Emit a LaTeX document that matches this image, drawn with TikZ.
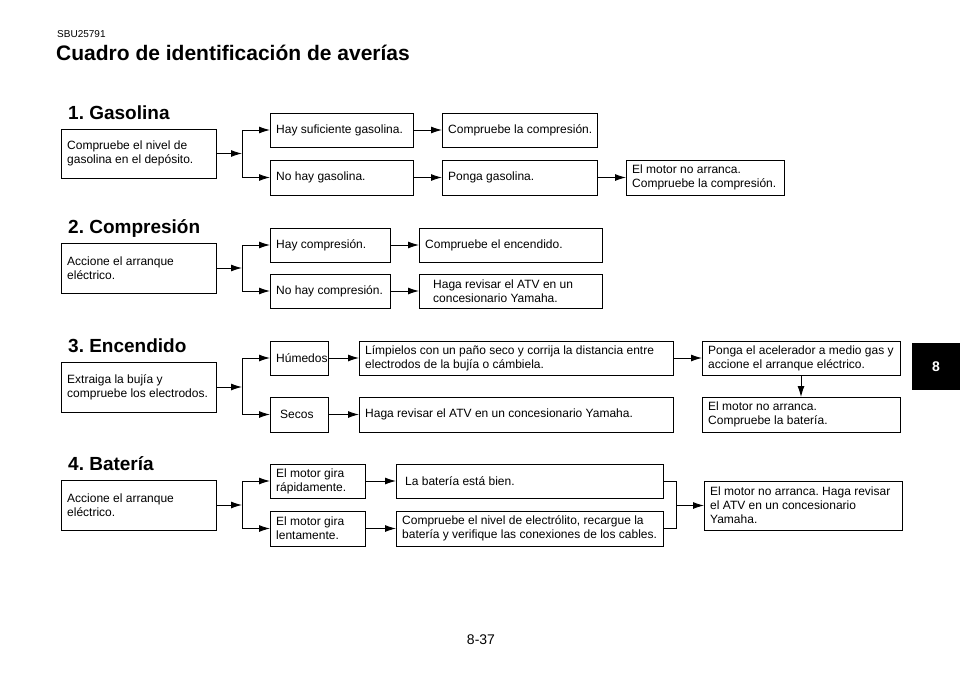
\documentclass[tikz,border=0pt]{standalone}
\usepackage{fontspec}
\setmainfont{Liberation Sans}
\usetikzlibrary{arrows.meta}
\frenchspacing
\begin{document}
\begin{tikzpicture}[x=1pt,y=-1pt,
  bx/.style={draw,line width=0.9pt,inner sep=0pt},
  tx/.style={anchor=west,align=left,font=\fontsize{12}{14}\selectfont,inner sep=0pt},
  ar/.style={line width=0.9pt,-{Latex[length=11pt,width=7pt]}},
  ln/.style={line width=0.9pt},
  ttl/.style={anchor=west,font=\fontsize{19}{22}\selectfont\bfseries,inner sep=0pt}]
\useasboundingbox (0,0) rectangle (960,675);
\def\B#1#2#3#4#5#6{\draw[bx] (#2,#3) rectangle (#4,#5); \coordinate (#1w) at (#2,{(#3+#5)/2}); \coordinate (#1e) at (#4,{(#3+#5)/2}); \node[tx] (#1) at ({#2+6},{(#3+#5)/2}) {#6};}
\node[anchor=west,inner sep=0pt,font=\fontsize{10}{12}\selectfont] (hd) at (57,34) {SBU25791};
\node[anchor=west,inner sep=0pt,font=\fontsize{21}{24}\selectfont\bfseries] (tt) at (56,53) {Cuadro de identificación de averías};
% 1
\node[ttl] (t1) at (68,113) {1. Gasolina};
\B{a1}{61}{129}{216}{178}{Compruebe el nivel de\\gasolina en el depósito.}
\B{b1}{270}{113}{413}{147}{Hay suficiente gasolina.}
\B{c1}{442}{113}{597}{147}{Compruebe la compresión.}
\B{b2}{270}{160}{413}{195}{No hay gasolina.}
\B{c2}{442}{160}{597}{195}{Ponga gasolina.}
\B{d2}{626}{160}{784}{195}{El motor no arranca.\\Compruebe la compresión.}
\coordinate (j1) at (242,153.5);
\draw[ar] (a1e) -- (j1);
\draw[ln] (242,130) -- (242,177.5);
\draw[ar] (242,130) -- (b1w);
\draw[ar] (242,177.5) -- (b2w);
\draw[ar] (b1e) -- (c1w);
\draw[ar] (b2e) -- (c2w);
\draw[ar] (c2e) -- (d2w);
% 2
\node[ttl] (t2) at (68,228) {2. Compresión};
\B{a2}{61}{243}{216}{293}{Accione el arranque\\eléctrico.}
\B{e1}{270}{228}{390}{262}{Hay compresión.}
\B{f1}{419}{228}{602}{262}{Compruebe el encendido.}
\B{e2}{270}{274}{390}{308}{No hay compresión.}
\B{f2}{419}{274}{602}{308}{\hspace*{8pt}Haga revisar el ATV en un\\\hspace*{8pt}concesionario Yamaha.}
\coordinate (j2) at (242,268);
\draw[ar] (a2e) -- (j2);
\draw[ln] (242,245) -- (242,291);
\draw[ar] (242,245) -- (e1w);
\draw[ar] (242,291) -- (e2w);
\draw[ar] (e1e) -- (f1w);
\draw[ar] (e2e) -- (f2w);
% 3
\node[ttl] (t3) at (68,346) {3. Encendido};
\B{a3}{61}{362}{216}{412}{Extraiga la bujía y\\compruebe los electrodos.}
\B{g1}{270}{341}{328}{375}{Húmedos}
\B{h1}{359}{341}{673}{375}{Límpielos con un paño seco y corrija la distancia entre\\electrodos de la bujía o cámbiela.}
\B{k1}{702}{341}{900}{375}{Ponga el acelerador a medio gas y\\accione el arranque eléctrico.}
\B{g2}{270}{397}{328}{432}{\hspace*{4pt}Secos}
\B{h2}{359}{397}{673}{432}{Haga revisar el ATV en un concesionario Yamaha.}
\B{k2}{702}{397}{900}{432}{El motor no arranca.\\Compruebe la batería.}
\coordinate (j3) at (242,387);
\draw[ar] (a3e) -- (j3);
\draw[ln] (242,358) -- (242,414.5);
\draw[ar] (242,358) -- (g1w);
\draw[ar] (242,414.5) -- (g2w);
\draw[ar] (g1e) -- (h1w);
\draw[ar] (g2e) -- (h2w);
\draw[ar] (h1e) -- (k1w);
\draw[ar] (801,375) -- (801,397);
% 4
\node[ttl] (t4) at (68,464) {4. Batería};
\B{a4}{61}{480}{216}{530}{Accione el arranque\\eléctrico.}
\B{m1}{270}{464}{365}{498}{El motor gira\\rápidamente.}
\B{n1}{396}{464}{663}{498}{\hspace*{3pt}La batería está bien.}
\B{m2}{270}{511}{365}{546}{El motor gira\\lentamente.}
\B{n2}{396}{511}{663}{546}{Compruebe el nivel de electrólito, recargue la\\batería y verifique las conexiones de los cables.}
\B{p1}{704}{481}{902}{530}{El motor no arranca. Haga revisar\\el ATV en un concesionario\\Yamaha.}
\coordinate (j4) at (242,505);
\draw[ar] (a4e) -- (j4);
\draw[ln] (242,481) -- (242,528.5);
\draw[ar] (242,481) -- (m1w);
\draw[ar] (242,528.5) -- (m2w);
\draw[ar] (m1e) -- (n1w);
\draw[ar] (m2e) -- (n2w);
\draw[ln] (n1e) -- (676,481) -- (676,528.5) -- (n2e);
\draw[ar] (676,505.5) -- (p1w);
% tab & page
\fill[black] (912,343) rectangle (960,390);
\node[font=\fontsize{14}{16}\selectfont\bfseries,text=white] (tab) at (936,366.5) {8};
\node[font=\fontsize{14}{16}\selectfont] (pg) at (481,640) {8-37};
\end{tikzpicture}
\end{document}
